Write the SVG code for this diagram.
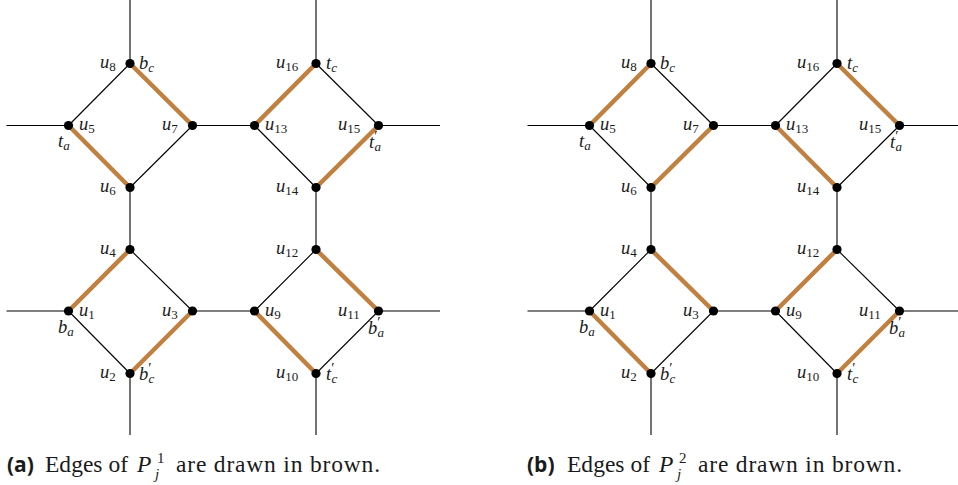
<svg xmlns="http://www.w3.org/2000/svg" width="958" height="485" viewBox="0 0 958 485">
<style>
.e{stroke:#000;stroke-width:1.1;fill:none}
.b{stroke:#C0803F;stroke-width:4.5;stroke-linecap:butt;fill:none}
.n{fill:#000}
.l{font-family:"Liberation Serif","DejaVu Serif",serif;font-style:italic;font-size:18.5px;fill:#1a1a1a}
.s{font-size:13px;font-style:normal}
.si{font-size:13px}
.p{font-size:15px;font-style:normal}
.cap{font-family:"Liberation Serif","DejaVu Serif",serif;font-size:23.5px;fill:#1a1a1a}
.capi{font-family:"Liberation Serif","DejaVu Serif",serif;font-size:23.5px;font-style:italic;fill:#1a1a1a}
.caps{font-family:"Liberation Serif","DejaVu Serif",serif;font-size:15px;fill:#1a1a1a}
.capb{font-family:"Open Sans","DejaVu Sans",sans-serif;font-weight:bold;font-size:21px;fill:#1a1a1a}
</style>
<defs>
<circle id="dot" r="4.6" class="n"/>
</defs>

<!-- ============ Diagram (a) ============ -->
<g id="connectors-a">
  <line class="e" x1="130" y1="0" x2="130" y2="63.5"/>
  <line class="e" x1="316" y1="0" x2="316" y2="63.5"/>
  <line class="e" x1="6.5" y1="125.5" x2="68.5" y2="125.5"/>
  <line class="e" x1="378.5" y1="125.5" x2="440" y2="125.5"/>
  <line class="e" x1="6.5" y1="311" x2="68.5" y2="311"/>
  <line class="e" x1="378.5" y1="311" x2="440" y2="311"/>
  <line class="e" x1="130" y1="373.5" x2="130" y2="435"/>
  <line class="e" x1="316" y1="373.5" x2="316" y2="435"/>
  <line class="e" x1="192.5" y1="125.5" x2="254.5" y2="125.5"/>
  <line class="e" x1="192.5" y1="311" x2="254.5" y2="311"/>
  <line class="e" x1="130" y1="187.5" x2="130" y2="249.5"/>
  <line class="e" x1="316" y1="187.5" x2="316" y2="249.5"/>
  <line class="e" x1="130" y1="63.5" x2="68.5" y2="125.5"/>
  <line class="e" x1="192.5" y1="125.5" x2="130" y2="187.5"/>
  <line class="e" x1="316" y1="63.5" x2="378.5" y2="125.5"/>
  <line class="e" x1="254.5" y1="125.5" x2="316" y2="187.5"/>
  <line class="e" x1="130" y1="249.5" x2="192.5" y2="311"/>
  <line class="e" x1="68.5" y1="311" x2="130" y2="373.5"/>
  <line class="e" x1="316" y1="249.5" x2="254.5" y2="311"/>
  <line class="e" x1="378.5" y1="311" x2="316" y2="373.5"/>
  <line class="b" x1="130" y1="63.5" x2="192.5" y2="125.5"/>
  <line class="b" x1="68.5" y1="125.5" x2="130" y2="187.5"/>
  <line class="b" x1="316" y1="63.5" x2="254.5" y2="125.5"/>
  <line class="b" x1="378.5" y1="125.5" x2="316" y2="187.5"/>
  <line class="b" x1="68.5" y1="311" x2="130" y2="249.5"/>
  <line class="b" x1="192.5" y1="311" x2="130" y2="373.5"/>
  <line class="b" x1="254.5" y1="311" x2="316" y2="373.5"/>
  <line class="b" x1="316" y1="249.5" x2="378.5" y2="311"/>
</g>
<g id="a-u8"><use href="#dot" x="130" y="63.5"/><text class="l" x="100" y="68">u<tspan class="s" dy="3">8</tspan></text><text class="l" x="139" y="69">b<tspan class="si" dy="3">c</tspan></text></g>
<g id="a-u5"><use href="#dot" x="68.5" y="125.5"/><text class="l" x="79" y="130">u<tspan class="s" dy="3">5</tspan></text><text class="l" x="58" y="147">t<tspan class="si" dy="3">a</tspan></text></g>
<g id="a-u7"><use href="#dot" x="192.5" y="125.5"/><text class="l" x="162" y="130">u<tspan class="s" dy="3">7</tspan></text></g>
<g id="a-u6"><use href="#dot" x="130" y="187.5"/><text class="l" x="100" y="192">u<tspan class="s" dy="3">6</tspan></text></g>
<g id="a-u13"><use href="#dot" x="254.5" y="125.5"/><text class="l" x="265" y="130">u<tspan class="s" dy="3">13</tspan></text></g>
<g id="a-u16"><use href="#dot" x="316" y="63.5"/><text class="l" x="276" y="68">u<tspan class="s" dy="3">16</tspan></text><text class="l" x="326" y="69">t<tspan class="si" dy="3">c</tspan></text></g>
<g id="a-u15"><use href="#dot" x="378.5" y="125.5"/><text class="l" x="338" y="130">u<tspan class="s" dy="3">15</tspan></text><text class="l" x="369" y="148">t<tspan class="p" dy="-7">′</tspan><tspan class="si" dx="-3" dy="10">a</tspan></text></g>
<g id="a-u14"><use href="#dot" x="316" y="187.5"/><text class="l" x="276" y="192">u<tspan class="s" dy="3">14</tspan></text></g>
<g id="a-u4"><use href="#dot" x="130" y="249.5"/><text class="l" x="100" y="254">u<tspan class="s" dy="3">4</tspan></text></g>
<g id="a-u1"><use href="#dot" x="68.5" y="311"/><text class="l" x="79" y="316">u<tspan class="s" dy="3">1</tspan></text><text class="l" x="58" y="333">b<tspan class="si" dy="3">a</tspan></text></g>
<g id="a-u3"><use href="#dot" x="192.5" y="311"/><text class="l" x="162" y="316">u<tspan class="s" dy="3">3</tspan></text></g>
<g id="a-u2"><use href="#dot" x="130" y="373.5"/><text class="l" x="100" y="378">u<tspan class="s" dy="3">2</tspan></text><text class="l" x="139" y="380">b<tspan class="p" dy="-7">′</tspan><tspan class="si" dx="-3" dy="10">c</tspan></text></g>
<g id="a-u12"><use href="#dot" x="316" y="249.5"/><text class="l" x="276" y="254">u<tspan class="s" dy="3">12</tspan></text></g>
<g id="a-u9"><use href="#dot" x="254.5" y="311"/><text class="l" x="265" y="316">u<tspan class="s" dy="3">9</tspan></text></g>
<g id="a-u11"><use href="#dot" x="378.5" y="311"/><text class="l" x="338" y="316">u<tspan class="s" dy="3">11</tspan></text><text class="l" x="368" y="334">b<tspan class="p" dy="-7">′</tspan><tspan class="si" dx="-3" dy="10">a</tspan></text></g>
<g id="a-u10"><use href="#dot" x="316" y="373.5"/><text class="l" x="276" y="378">u<tspan class="s" dy="3">10</tspan></text><text class="l" x="326" y="380">t<tspan class="p" dy="-7">′</tspan><tspan class="si" dx="-3" dy="10">c</tspan></text></g>
<g id="caption-a">
  <text class="capb" x="7" y="472">(a)</text>
  <text class="cap" x="45" y="472" textLength="83" lengthAdjust="spacing">Edges of</text>
  <text class="capi" x="137" y="472">P</text>
  <text class="caps" x="157" y="463">1</text>
  <text class="caps" font-style="italic" x="155" y="479">j</text>
  <text class="cap" x="176" y="472" textLength="204" lengthAdjust="spacing">are drawn in brown.</text>
</g>

<!-- ============ Diagram (b) ============ -->
<g id="connectors-b" transform="translate(521,0)">
  <line class="e" x1="130" y1="0" x2="130" y2="63.5"/>
  <line class="e" x1="316" y1="0" x2="316" y2="63.5"/>
  <line class="e" x1="6.5" y1="125.5" x2="68.5" y2="125.5"/>
  <line class="e" x1="378.5" y1="125.5" x2="440" y2="125.5"/>
  <line class="e" x1="6.5" y1="311" x2="68.5" y2="311"/>
  <line class="e" x1="378.5" y1="311" x2="440" y2="311"/>
  <line class="e" x1="130" y1="373.5" x2="130" y2="435"/>
  <line class="e" x1="316" y1="373.5" x2="316" y2="435"/>
  <line class="e" x1="192.5" y1="125.5" x2="254.5" y2="125.5"/>
  <line class="e" x1="192.5" y1="311" x2="254.5" y2="311"/>
  <line class="e" x1="130" y1="187.5" x2="130" y2="249.5"/>
  <line class="e" x1="316" y1="187.5" x2="316" y2="249.5"/>
  <line class="e" x1="130" y1="63.5" x2="192.5" y2="125.5"/>
  <line class="e" x1="68.5" y1="125.5" x2="130" y2="187.5"/>
  <line class="e" x1="316" y1="63.5" x2="254.5" y2="125.5"/>
  <line class="e" x1="378.5" y1="125.5" x2="316" y2="187.5"/>
  <line class="e" x1="68.5" y1="311" x2="130" y2="249.5"/>
  <line class="e" x1="192.5" y1="311" x2="130" y2="373.5"/>
  <line class="e" x1="254.5" y1="311" x2="316" y2="373.5"/>
  <line class="e" x1="316" y1="249.5" x2="378.5" y2="311"/>
  <line class="b" x1="130" y1="63.5" x2="68.5" y2="125.5"/>
  <line class="b" x1="192.5" y1="125.5" x2="130" y2="187.5"/>
  <line class="b" x1="316" y1="63.5" x2="378.5" y2="125.5"/>
  <line class="b" x1="254.5" y1="125.5" x2="316" y2="187.5"/>
  <line class="b" x1="130" y1="249.5" x2="192.5" y2="311"/>
  <line class="b" x1="68.5" y1="311" x2="130" y2="373.5"/>
  <line class="b" x1="316" y1="249.5" x2="254.5" y2="311"/>
  <line class="b" x1="378.5" y1="311" x2="316" y2="373.5"/>
</g>
<g transform="translate(521,0)">
<g id="b-u8"><use href="#dot" x="130" y="63.5"/><text class="l" x="100" y="68">u<tspan class="s" dy="3">8</tspan></text><text class="l" x="139" y="69">b<tspan class="si" dy="3">c</tspan></text></g>
<g id="b-u5"><use href="#dot" x="68.5" y="125.5"/><text class="l" x="79" y="130">u<tspan class="s" dy="3">5</tspan></text><text class="l" x="58" y="147">t<tspan class="si" dy="3">a</tspan></text></g>
<g id="b-u7"><use href="#dot" x="192.5" y="125.5"/><text class="l" x="162" y="130">u<tspan class="s" dy="3">7</tspan></text></g>
<g id="b-u6"><use href="#dot" x="130" y="187.5"/><text class="l" x="100" y="192">u<tspan class="s" dy="3">6</tspan></text></g>
<g id="b-u13"><use href="#dot" x="254.5" y="125.5"/><text class="l" x="265" y="130">u<tspan class="s" dy="3">13</tspan></text></g>
<g id="b-u16"><use href="#dot" x="316" y="63.5"/><text class="l" x="276" y="68">u<tspan class="s" dy="3">16</tspan></text><text class="l" x="326" y="69">t<tspan class="si" dy="3">c</tspan></text></g>
<g id="b-u15"><use href="#dot" x="378.5" y="125.5"/><text class="l" x="338" y="130">u<tspan class="s" dy="3">15</tspan></text><text class="l" x="369" y="148">t<tspan class="p" dy="-7">′</tspan><tspan class="si" dx="-3" dy="10">a</tspan></text></g>
<g id="b-u14"><use href="#dot" x="316" y="187.5"/><text class="l" x="276" y="192">u<tspan class="s" dy="3">14</tspan></text></g>
<g id="b-u4"><use href="#dot" x="130" y="249.5"/><text class="l" x="100" y="254">u<tspan class="s" dy="3">4</tspan></text></g>
<g id="b-u1"><use href="#dot" x="68.5" y="311"/><text class="l" x="79" y="316">u<tspan class="s" dy="3">1</tspan></text><text class="l" x="58" y="333">b<tspan class="si" dy="3">a</tspan></text></g>
<g id="b-u3"><use href="#dot" x="192.5" y="311"/><text class="l" x="162" y="316">u<tspan class="s" dy="3">3</tspan></text></g>
<g id="b-u2"><use href="#dot" x="130" y="373.5"/><text class="l" x="100" y="378">u<tspan class="s" dy="3">2</tspan></text><text class="l" x="139" y="380">b<tspan class="p" dy="-7">′</tspan><tspan class="si" dx="-3" dy="10">c</tspan></text></g>
<g id="b-u12"><use href="#dot" x="316" y="249.5"/><text class="l" x="276" y="254">u<tspan class="s" dy="3">12</tspan></text></g>
<g id="b-u9"><use href="#dot" x="254.5" y="311"/><text class="l" x="265" y="316">u<tspan class="s" dy="3">9</tspan></text></g>
<g id="b-u11"><use href="#dot" x="378.5" y="311"/><text class="l" x="338" y="316">u<tspan class="s" dy="3">11</tspan></text><text class="l" x="368" y="334">b<tspan class="p" dy="-7">′</tspan><tspan class="si" dx="-3" dy="10">a</tspan></text></g>
<g id="b-u10"><use href="#dot" x="316" y="373.5"/><text class="l" x="276" y="378">u<tspan class="s" dy="3">10</tspan></text><text class="l" x="326" y="380">t<tspan class="p" dy="-7">′</tspan><tspan class="si" dx="-3" dy="10">c</tspan></text></g>
</g>
<g id="caption-b">
  <text class="capb" x="527" y="472">(b)</text>
  <text class="cap" x="567" y="472" textLength="83" lengthAdjust="spacing">Edges of</text>
  <text class="capi" x="659" y="472">P</text>
  <text class="caps" x="679" y="463">2</text>
  <text class="caps" font-style="italic" x="677" y="479">j</text>
  <text class="cap" x="698" y="472" textLength="204" lengthAdjust="spacing">are drawn in brown.</text>
</g>
</svg>
